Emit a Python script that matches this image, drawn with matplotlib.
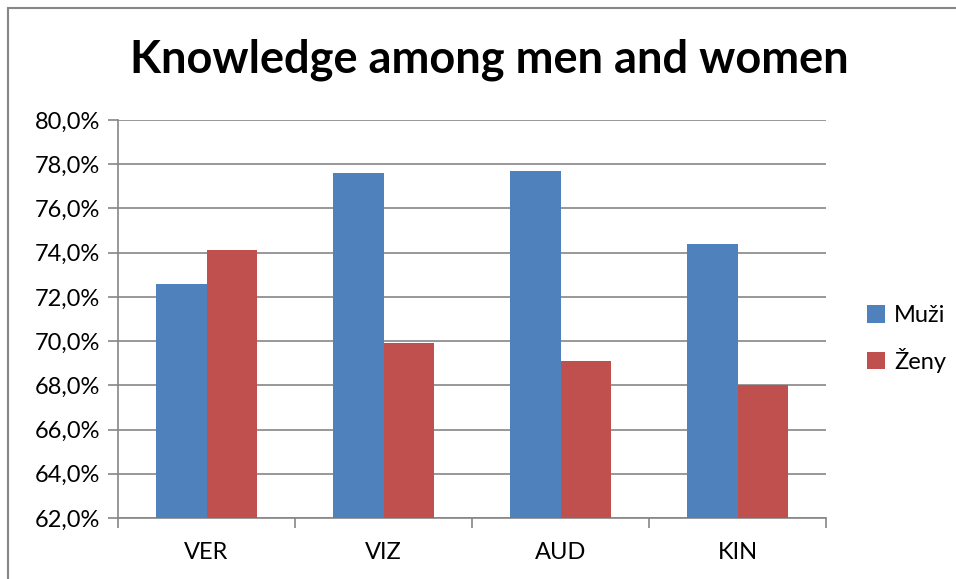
import matplotlib.pyplot as plt
import numpy as np
from matplotlib.patches import Rectangle
from matplotlib.ticker import FuncFormatter

plt.rcParams['font.family'] = ['Lato', 'DejaVu Sans']

categories = ["VER", "VIZ", "AUD", "KIN"]
muzi = [72.6, 77.6, 77.7, 74.4]
zeny = [74.1, 69.9, 69.1, 68.0]

fig = plt.figure(figsize=(9.56, 5.79), dpi=100)
ax = fig.add_axes([118/956, 61/579, 708/956, 398/579])

# outer chart border (right and bottom edges fall outside the image)
fig.patches.append(Rectangle((8/956, -0.05), 1.1, 1.05 - 8/579, transform=fig.transFigure,
                             fill=False, edgecolor="#868686", linewidth=1.5))

x = np.arange(len(categories))
w = 0.2857
ax.bar(x - w/2, muzi, w, color="#4F81BD", label="Muži", zorder=3)
ax.bar(x + w/2, zeny, w, color="#C0504D", label="Ženy", zorder=3)

ax.set_xlim(-0.5, 3.5)
ax.set_ylim(62, 80)
ax.set_yticks(np.arange(62, 80.1, 2))
ax.yaxis.set_major_formatter(FuncFormatter(lambda v, p: f"{v:.1f}%".replace(".", ",")))
ax.set_xticks(x, labels=categories)
ax.set_xticks(np.arange(-0.5, 3.6, 1), minor=True)
ax.tick_params(axis="x", which="major", length=0, pad=17, labelsize=17)
ax.tick_params(axis="x", which="minor", length=7, color="#868686", width=1.2)
ax.tick_params(axis="y", length=7, color="#868686", width=1.2, labelsize=17, pad=6)

ax.grid(axis="y", color="#868686", linewidth=1.2, zorder=0)
for s in ["top", "right"]:
    ax.spines[s].set_visible(False)
for s in ["left", "bottom"]:
    ax.spines[s].set_color("#868686")
    ax.spines[s].set_linewidth(1.2)

fig.text(489/956, 1 - 60/579, "Knowledge among men and women", ha="center", va="center",
         fontsize=32.5, fontweight="bold")

ax.legend(loc="center left", bbox_to_anchor=(1.028, 0.45), frameon=False, fontsize=17,
          handlelength=0.75, handleheight=0.75, handletextpad=0.4, labelspacing=0.9)

plt.savefig("out.png", dpi=100)
